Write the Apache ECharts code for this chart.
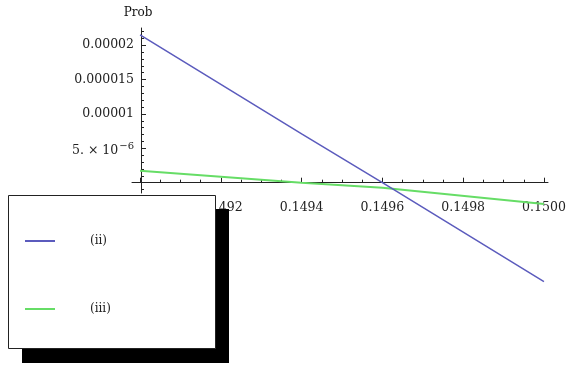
<!DOCTYPE html>
<html>
<head>
<meta charset="utf-8">
<script src="https://cdn.jsdelivr.net/npm/echarts@6/dist/echarts.min.js"></script>
<style>
  html, body { margin: 0; padding: 0; background: #fff; }
  #chart { width: 572px; height: 366px; }
</style>
</head>
<body>
<div id="chart"></div>
<script>
// Probability curves for cases (ii) and (iii)
const seriesNames = ['(ii)', '(iii)'];
const xValues = [0.1490, 0.1494, 0.1496, 0.1500];
const probII = [2.15e-5, 7.1e-6, 0.0, -1.44e-5];
const probIII = [1.75e-6, 0.0, -0.75e-6, -3.1e-6];

// x axis ticks and labels
const xMajorTicks = [0.1490, 0.1492, 0.1494, 0.1496, 0.1498, 0.1500];
const xMinorTicks = [0.14905, 0.14910, 0.14915, 0.14925, 0.14930, 0.14935,
  0.14945, 0.14950, 0.14955, 0.14965, 0.14970, 0.14975,
  0.14985, 0.14990, 0.14995];
const xLabelValues = [0.1492, 0.1494, 0.1496, 0.1498, 0.1500];
const xLabelTexts = ['0.1492', '0.1494', '0.1496', '0.1498', '0.1500'];

// y axis ticks and labels
const yMajorTicks = [5e-6, 1e-5, 1.5e-5, 2e-5];
const yMinorTicks = [-1e-6, 1e-6, 2e-6, 3e-6, 4e-6, 6e-6, 7e-6, 8e-6, 9e-6,
  1.1e-5, 1.2e-5, 1.3e-5, 1.4e-5, 1.6e-5, 1.7e-5, 1.8e-5, 1.9e-5, 2.1e-5, 2.2e-5];
const yLabelValues = [5e-6, 1e-5, 1.5e-5, 2e-5];
const yLabelTexts = ['{m|5. \u00d7 10}{s|\u22126}', '0.00001', '0.000015', '0.00002'];

const FONT = 'DejaVu Serif';
const colors = ['#5b5bbd', '#66dd66'];

function lookup(values, texts, v) {
  for (let i = 0; i < values.length; i++) {
    if (Math.abs(values[i] - v) < 1e-12) return texts[i];
  }
  return '';
}

const chart = echarts.init(document.getElementById('chart'), null, { renderer: 'canvas' });

const yRange = { min: -1.5e-6, max: 2.25e-5 };

chart.setOption({
  animation: false,
  backgroundColor: '#ffffff',
  grid: { left: 132, right: 24, top: 28, bottom: 173, containLabel: false },
  xAxis: [{
    type: 'value',
    min: 0.14898,
    max: 0.15001,
    axisLine: { show: true, onZero: true, lineStyle: { color: '#222', width: 1 } },
    axisTick: {
      show: true, inside: true, length: 3,
      customValues: xMinorTicks,
      lineStyle: { color: '#222', width: 1 }
    },
    axisLabel: { show: false },
    splitLine: { show: false }
  }, {
    type: 'value',
    position: 'bottom',
    min: 0.14898,
    max: 0.15001,
    axisLine: { show: false, onZero: true },
    axisTick: {
      show: true, inside: true, length: 5,
      customValues: xMajorTicks,
      lineStyle: { color: '#222', width: 1 }
    },
    axisLabel: {
      show: true,
      margin: 8,
      customValues: xLabelValues,
      formatter: v => lookup(xLabelValues, xLabelTexts, v),
      fontFamily: FONT, fontSize: 12.5, color: '#222'
    },
    splitLine: { show: false }
  }],
  yAxis: [{
    type: 'value',
    position: 'left',
    offset: -9,
    min: yRange.min,
    max: yRange.max,
    name: 'Prob',
    nameLocation: 'end',
    nameGap: 9,
    nameTextStyle: { fontFamily: FONT, fontSize: 12, color: '#111', align: 'center', padding: [0, 6, 0, 0] },
    axisLine: { show: true, lineStyle: { color: '#222', width: 1 } },
    axisTick: {
      show: true, inside: true, length: 3,
      customValues: yMinorTicks,
      lineStyle: { color: '#222', width: 1 }
    },
    axisLabel: { show: false },
    splitLine: { show: false }
  }, {
    type: 'value',
    position: 'left',
    offset: -9,
    min: yRange.min,
    max: yRange.max,
    axisLine: { show: false },
    axisTick: {
      show: true, inside: true, length: 5,
      customValues: yMajorTicks,
      lineStyle: { color: '#222', width: 1 }
    },
    axisLabel: {
      show: true,
      margin: 7,
      customValues: yLabelValues,
      formatter: v => lookup(yLabelValues, yLabelTexts, v),
      fontFamily: FONT, fontSize: 12.5, color: '#222',
      rich: {
        m: { fontFamily: FONT, fontSize: 12.5, color: '#222', padding: [4, 0, 0, 0] },
        s: { fontFamily: FONT, fontSize: 10, color: '#222', padding: [0, 0, 4, 1] }
      }
    },
    splitLine: { show: false }
  }],
  legend: {
    show: true,
    orient: 'vertical',
    left: 20,
    top: 230,
    z: 110,
    itemGap: 56,
    itemWidth: 30,
    itemHeight: 2,
    icon: 'rect',
    data: seriesNames,
    textStyle: { fontFamily: FONT, fontSize: 12, color: '#222', padding: [0, 0, 0, 30] }
  },
  graphic: [{
    type: 'rect',
    z: 100,
    shape: { x: 22, y: 209, width: 207, height: 154 },
    style: { fill: '#000' }
  }, {
    type: 'rect',
    z: 101,
    shape: { x: 8.5, y: 195.5, width: 207, height: 153 },
    style: { fill: '#fff', stroke: '#222', lineWidth: 1 }
  }],
  series: [{
    name: seriesNames[0],
    type: 'line',
    xAxisIndex: 0,
    yAxisIndex: 0,
    clip: false,
    showSymbol: false,
    data: xValues.map((x, i) => [x, probII[i]]),
    itemStyle: { color: colors[0] },
    lineStyle: { color: colors[0], width: 1.5 },
    z: 3
  }, {
    name: seriesNames[1],
    type: 'line',
    xAxisIndex: 0,
    yAxisIndex: 0,
    clip: false,
    showSymbol: false,
    data: xValues.map((x, i) => [x, probIII[i]]),
    itemStyle: { color: colors[1] },
    lineStyle: { color: colors[1], width: 2 },
    z: 2
  }]
});
</script>
</body>
</html>
